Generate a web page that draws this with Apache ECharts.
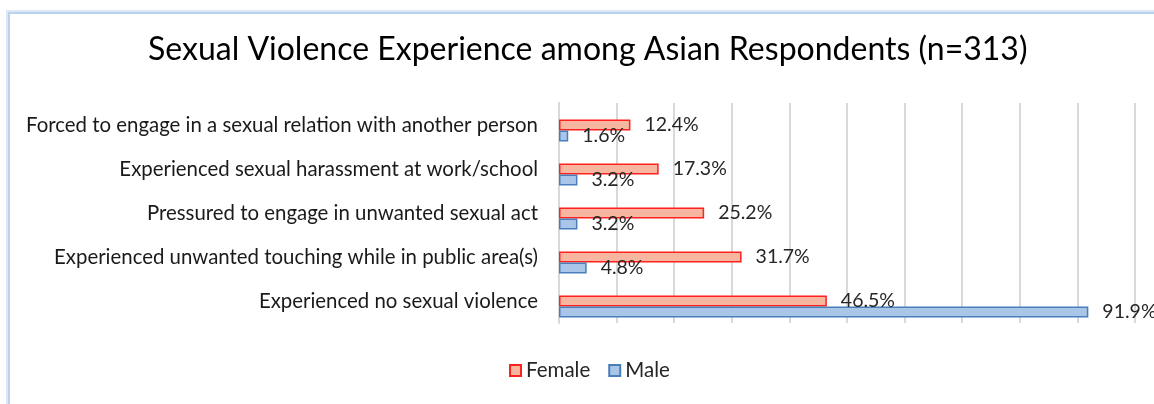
<!DOCTYPE html>
<html>
<head>
<meta charset="UTF-8">
<title>Sexual Violence Experience</title>
<script src="https://cdn.jsdelivr.net/npm/echarts@6/dist/echarts.min.js"></script>
<style>
    html, body { margin: 0; padding: 0; background: #fff; }
    #main { width: 1154px; height: 404px; }
    #frame {
        position: absolute; left: 6px; top: 10px; width: 1200px; height: 450px;
        border-left: 2px solid #dfe7f1; border-top: 2px solid #dfe7f1;
        pointer-events: none;
    }
    #frame div {
        width: 100%; height: 100%;
        border-left: 2px solid #b8d3f0; border-top: 2px solid #b8d3f0;
    }
</style>
</head>
<body>
<div id="main"></div>
<div id="frame"><div></div></div>
<script type="text/javascript">
    var categories = [
        'Forced to engage in a sexual relation with another person',
        'Experienced sexual harassment at work/school',
        'Pressured to engage in unwanted sexual act',
        'Experienced unwanted touching while in public area(s)',
        'Experienced no sexual violence'
    ];
    var female = [12.4, 17.3, 25.2, 31.7, 46.5];
    var male = [1.6, 3.2, 3.2, 4.8, 91.9];
    var xTicks = [0, 100, 10]; // min, max, step (percent)

    var font = 'Lato';
    var myChart = echarts.init(document.getElementById('main'));

    var pctLabel = {
        show: true,
        position: 'right',
        distance: 14,
        fontFamily: font,
        fontSize: 19.5,
        color: '#262626',
        formatter: function (p) { return p.value.toFixed(1) + '%'; }
    };

    var option = {
        animation: false,
        title: {
            text: 'Sexual Violence Experience among Asian Respondents (n=313)',
            left: 143,
            top: 29,
            textStyle: { fontFamily: font, fontSize: 32, fontWeight: 'normal', color: '#000' }
        },
        legend: {
            data: ['Female', 'Male'],
            top: 355,
            left: 504,
            icon: 'rect',
            itemWidth: 11,
            itemHeight: 11,
            itemGap: 18,
            textStyle: { fontFamily: font, fontSize: 20.5, color: '#262626' }
        },
        grid: { left: 559, right: 19, top: 103, height: 220 },
        xAxis: {
            type: 'value',
            min: xTicks[0],
            max: xTicks[1],
            interval: xTicks[2],
            axisLabel: { show: false },
            axisLine: { show: false },
            axisTick: { show: false },
            splitLine: { lineStyle: { color: '#d9d9d9', width: 2 } }
        },
        yAxis: {
            type: 'category',
            inverse: true,
            data: categories,
            axisTick: { show: false },
            axisLine: { lineStyle: { color: '#d9d9d9', width: 2 } },
            axisLabel: { margin: 21, fontFamily: font, fontSize: 20.4, color: '#1a1a1a' }
        },
        series: [
            {
                name: 'pad',
                type: 'bar',
                silent: true,
                barWidth: 11,
                barGap: '0%',
                data: [0, 0, 0, 0, 0],
                itemStyle: { color: 'rgba(0,0,0,0)' }
            },
            {
                name: 'Female',
                type: 'bar',
                barWidth: 11,
                barGap: '0%',
                data: female,
                itemStyle: { color: '#f6b6a0', borderColor: '#ff2020', borderWidth: 1.5 },
                label: pctLabel
            },
            {
                name: 'Male',
                type: 'bar',
                barWidth: 11,
                barGap: '0%',
                data: male,
                itemStyle: { color: '#a9c6e9', borderColor: '#4a7ebb', borderWidth: 1.5 },
                label: pctLabel
            }
        ]
    };
    myChart.setOption(option);
</script>
</body>
</html>
